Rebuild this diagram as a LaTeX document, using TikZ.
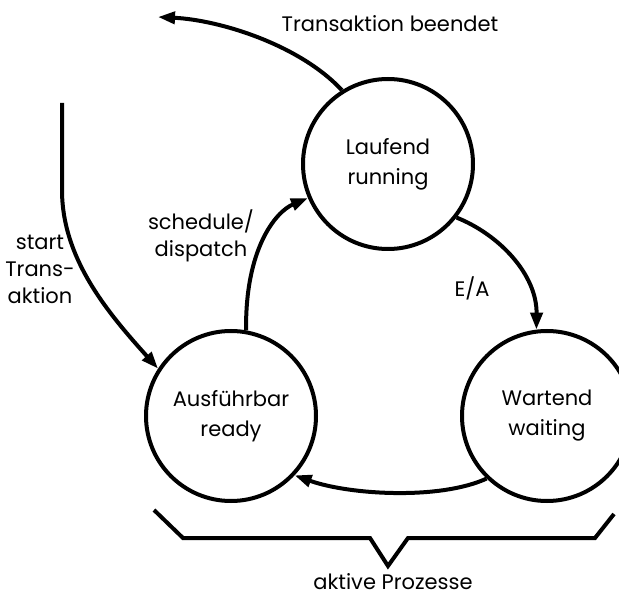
\documentclass[tikz,border=0pt]{standalone}
\usepackage{fontspec}
\setmainfont{Poppins}
\usetikzlibrary{arrows.meta}
\begin{document}
\begin{tikzpicture}[x=1pt,y=-1pt,
  state/.style={circle,draw,line width=4pt,minimum size=170pt,inner sep=0pt,
    align=center,font=\fontsize{21}{30}\selectfont},
  conn/.style={line width=4pt,-{Triangle[length=17pt,width=12pt]}},
  lbl/.style={font=\fontsize{21}{27}\selectfont,align=center,inner sep=0pt}]
\useasboundingbox (0,0) rectangle (619,596);

% process states
\node[state] (L) at (388,164) {Laufend\\running};
\node[state] (A) at (231,416) {Ausführbar\\ready};
\node[state] (W) at (547,416) {Wartend\\waiting};

% free ends of the transaction arrows
\coordinate (tend) at (158,17);
\coordinate (tstart) at (62,103);

% transitions
\draw[conn] (A.80) .. controls (245,250) and (275,212) .. (L.203);
\draw[conn] (L.-38) .. controls (500,235) and (537,275) .. (W.97);
\draw[conn] (W.226) .. controls (440,500) and (350,495) .. (A.-43);
\draw[conn] (L.122) .. controls (300,45) and (220,20) .. (tend);
\draw[conn] (tstart) -- (62,190) .. controls (62,260) and (110,315) .. (A.147);

% labels
\node[lbl] (tl) at (390,24) {Transaktion beendet};
\node[lbl] (sl) at (40,269) {start\\Trans-\\aktion};
\node[lbl] (dl) at (201,236) {schedule/\\dispatch};
\node[lbl] (el) at (472,288) {E/A};

% brace under the active processes
\draw[line width=4pt,line join=miter] (154,510) -- (183,538) -- (370,538) -- (388,566)
  -- (408,538) -- (595,538) -- (614,514);
\node[lbl] (pl) at (393,582) {aktive Prozesse};
\end{tikzpicture}
\end{document}
